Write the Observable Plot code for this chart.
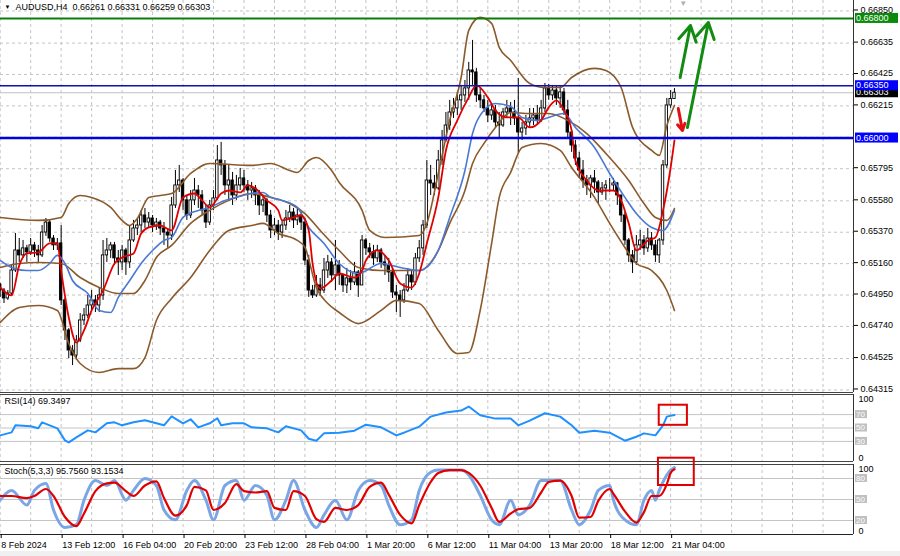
<!DOCTYPE html>
<html><head><meta charset="utf-8">
<script src="https://cdn.jsdelivr.net/npm/d3@7"></script>
<script src="https://cdn.jsdelivr.net/npm/@observablehq/plot@0.6"></script>
<style>
html,body{margin:0;padding:0;background:#fff;}
#chart{position:relative;width:900px;height:556px;overflow:hidden;background:#fff;}
#chart > svg{position:absolute;left:0;overflow:visible;}
#strip{position:absolute;left:0;top:551px;width:900px;height:5px;background:#f0f0f0;}
</style></head><body><div id="chart"><div id="strip"></div></div>
<script>
// ---------------- DATA ----------------
const symbolTitle = "AUDUSD,H4  0.66261 0.66331 0.66259 0.66303";
const rsiTitle = "RSI(14) 69.3497";
const stochTitle = "Stoch(5,3,3) 95.7560 93.1534";

const firstOpen = 0.65020;
const closes = [
0.64980,0.64927,0.64960,0.65114,0.65248,0.65215,0.65262,0.65235,0.65282,0.65248,
0.65215,0.65368,0.65435,0.65328,0.65282,0.65295,0.64914,0.64713,0.64579,0.64545,
0.64646,0.64780,0.64813,0.64880,0.64914,0.64880,0.64947,0.65215,0.65248,0.65282,
0.65195,0.65168,0.65248,0.65168,0.65315,0.65395,0.65415,0.65482,0.65435,0.65462,
0.65415,0.65435,0.65395,0.65368,0.65348,0.65549,0.65683,0.65716,0.65583,0.65482,
0.65583,0.65649,0.65616,0.65516,0.65435,0.65549,0.65596,0.65850,0.65817,0.65683,
0.65716,0.65616,0.65683,0.65730,0.65683,0.65649,0.65663,0.65616,0.65549,0.65583,
0.65482,0.65382,0.65415,0.65368,0.65415,0.65462,0.65502,0.65449,0.65482,0.65435,
0.65181,0.64980,0.64947,0.65014,0.64980,0.65114,0.65168,0.65081,0.65148,0.65081,
0.65014,0.65061,0.65034,0.65101,0.65014,0.65315,0.65262,0.65235,0.65195,0.65248,
0.65168,0.65148,0.65101,0.64967,0.64947,0.64914,0.64980,0.65081,0.65034,0.65195,
0.65262,0.65415,0.65716,0.65696,0.65663,0.65850,0.65984,0.66084,0.66171,0.66198,
0.66252,0.66285,0.66332,0.66452,0.66439,0.66285,0.66252,0.66198,0.66151,0.66185,
0.66104,0.66084,0.66171,0.66198,0.66171,0.66131,0.66037,0.66064,0.66104,0.66131,
0.66151,0.66118,0.66198,0.66332,0.66285,0.66318,0.66265,0.66305,0.66185,0.66037,
0.65950,0.65863,0.65783,0.65716,0.65683,0.65730,0.65703,0.65636,0.65663,0.65683,
0.65683,0.65696,0.65616,0.65482,0.65315,0.65215,0.65168,0.65282,0.65315,0.65262,
0.65328,0.65282,0.65215,0.65315,0.65817,0.66218,0.66261,0.66303];
const highs = [
0.65027,0.64994,0.64980,0.65148,0.65362,0.65328,0.65315,0.65282,0.65328,0.65302,
0.65282,0.65415,0.65462,0.65449,0.65348,0.65328,0.65415,0.64927,0.64726,0.64612,
0.64679,0.64826,0.64860,0.64947,0.64980,0.64947,0.64994,0.65315,0.65328,0.65302,
0.65302,0.65248,0.65282,0.65262,0.65415,0.65449,0.65462,0.65516,0.65529,0.65502,
0.65482,0.65462,0.65449,0.65435,0.65395,0.65603,0.65783,0.65817,0.65730,0.65616,
0.65649,0.65730,0.65683,0.65649,0.65549,0.65583,0.65649,0.65950,0.65971,0.65850,
0.65817,0.65770,0.65750,0.65797,0.65783,0.65716,0.65703,0.65683,0.65649,0.65616,
0.65596,0.65516,0.65462,0.65449,0.65449,0.65516,0.65549,0.65529,0.65529,0.65502,
0.65462,0.65215,0.65014,0.65081,0.65061,0.65195,0.65215,0.65195,0.65315,0.65181,
0.65081,0.65128,0.65114,0.65168,0.65114,0.65348,0.65328,0.65295,0.65282,0.65282,
0.65262,0.65215,0.65195,0.65128,0.65014,0.64980,0.65027,0.65128,0.65114,0.65228,
0.65315,0.65449,0.65850,0.65817,0.65750,0.65917,0.66051,0.66171,0.66252,0.66265,
0.66305,0.66352,0.66385,0.66506,0.66653,0.66466,0.66332,0.66285,0.66252,0.66231,
0.66218,0.66171,0.66198,0.66252,0.66238,0.66252,0.66399,0.66104,0.66151,0.66198,
0.66198,0.66218,0.66252,0.66365,0.66359,0.66352,0.66345,0.66345,0.66332,0.66252,
0.66051,0.65984,0.65904,0.65850,0.65750,0.65750,0.65783,0.65716,0.65703,0.65716,
0.65730,0.65730,0.65703,0.65616,0.65502,0.65328,0.65248,0.65348,0.65382,0.65348,
0.65395,0.65368,0.65315,0.65328,0.65850,0.66265,0.66318,0.66331];
const lows = [
0.64934,0.64893,0.64914,0.64947,0.65101,0.65168,0.65195,0.65168,0.65215,0.65201,
0.65168,0.65201,0.65342,0.65302,0.65248,0.65248,0.64880,0.64646,0.64525,0.64478,
0.64512,0.64632,0.64746,0.64793,0.64847,0.64833,0.64833,0.64914,0.65168,0.65195,
0.65148,0.65081,0.65114,0.65081,0.65128,0.65302,0.65348,0.65368,0.65395,0.65395,
0.65368,0.65382,0.65348,0.65282,0.65262,0.65315,0.65529,0.65636,0.65516,0.65449,
0.65462,0.65549,0.65529,0.65482,0.65395,0.65415,0.65516,0.65583,0.65750,0.65616,
0.65583,0.65549,0.65583,0.65649,0.65636,0.65583,0.65596,0.65549,0.65482,0.65502,
0.65435,0.65328,0.65348,0.65315,0.65328,0.65382,0.65435,0.65395,0.65415,0.65382,
0.65148,0.64934,0.64927,0.64934,0.64940,0.64960,0.65061,0.65034,0.64980,0.65014,
0.64967,0.64960,0.64980,0.65014,0.64934,0.65014,0.65215,0.65195,0.65148,0.65168,
0.65128,0.65081,0.65034,0.64927,0.64833,0.64800,0.64893,0.64967,0.64980,0.65014,
0.65168,0.65215,0.65395,0.65616,0.65616,0.65649,0.65817,0.65971,0.66051,0.66131,
0.66151,0.66185,0.66238,0.66252,0.66352,0.66238,0.66198,0.66171,0.66104,0.66118,
0.66064,0.65997,0.66071,0.66131,0.66084,0.66084,0.65897,0.65984,0.66017,0.66064,
0.66084,0.66084,0.66104,0.66171,0.66252,0.66252,0.66218,0.66198,0.66151,0.65997,
0.65904,0.65817,0.65730,0.65663,0.65616,0.65596,0.65629,0.65562,0.65616,0.65583,
0.65636,0.65649,0.65549,0.65435,0.65282,0.65168,0.65094,0.65148,0.65248,0.65215,
0.65235,0.65248,0.65168,0.65161,0.65282,0.65797,0.66198,0.66259];

// Bollinger bands (bar index, price)
const upperBars = [0,10,16,18,21,24,29,32,34,36,39,42,45,50,55,66,71,76,78,81,83,87,89,95,97,101,110,112,115,118,121,123,126,129,131,134,139,143,147,150,156,159,163,166,171,173,175,177];
const upperVals = [0.65469,0.65449,0.65469,0.65562,0.65616,0.65603,0.65536,0.65449,0.65415,0.65462,0.65603,0.65616,0.65629,0.65763,0.65830,0.65817,0.65830,0.65783,0.65770,0.65850,0.65870,0.65783,0.65703,0.65516,0.65382,0.65335,0.65348,0.65429,0.65763,0.66118,0.66405,0.66720,0.66807,0.66767,0.66606,0.66519,0.66365,0.66338,0.66338,0.66405,0.66466,0.66452,0.66338,0.66071,0.65917,0.65884,0.66084,0.66218];
const middleBars = [0,5,10,16,21,26,31,35,38,41,45,50,55,60,66,71,76,80,84,89,94,100,105,110,115,118,122,124,127,130,134,139,144,149,154,159,165,169,172,175,177];
const middleVals = [0.65134,0.65161,0.65168,0.65161,0.65067,0.65000,0.64960,0.64960,0.65047,0.65201,0.65282,0.65429,0.65516,0.65583,0.65629,0.65603,0.65562,0.65495,0.65382,0.65248,0.65134,0.65114,0.65114,0.65114,0.65248,0.65429,0.65649,0.65830,0.65964,0.66071,0.66171,0.66164,0.66164,0.66118,0.66030,0.65897,0.65716,0.65562,0.65469,0.65449,0.65529];
const lowerBars = [0,5,10,15,18,21,26,31,35,38,41,45,50,55,60,66,69,73,78,80,83,86,89,94,100,104,110,115,120,123,126,129,131,134,137,142,147,150,156,160,164,167,171,175,177];
const lowerVals = [0.64766,0.64866,0.64880,0.64847,0.64626,0.64492,0.64432,0.64458,0.64458,0.64532,0.64780,0.64927,0.65067,0.65248,0.65382,0.65415,0.65429,0.65362,0.65315,0.65268,0.65000,0.64893,0.64833,0.64759,0.64847,0.64914,0.64893,0.64713,0.64559,0.64565,0.64847,0.65295,0.65603,0.65770,0.65937,0.65964,0.65917,0.65803,0.65603,0.65429,0.65268,0.65161,0.65114,0.64980,0.64847];
// Moving averages
const redBars = [0,3,5,7,10,13,15,16,18,20,22,24,27,30,32,35,37,39,42,45,48,51,53,55,58,60,63,65,67,70,73,74,77,79,81,82,84,87,89,93,95,96,99,102,105,108,110,112,115,117,120,123,125,128,130,133,136,139,142,144,146,148,150,151,154,157,161,163,165,167,170,172,174,176,177];
const redVals = [0.65001,0.64947,0.65148,0.65228,0.65235,0.65295,0.65295,0.65114,0.64800,0.64632,0.64713,0.64847,0.64980,0.65161,0.65201,0.65228,0.65362,0.65402,0.65415,0.65382,0.65603,0.65629,0.65583,0.65536,0.65629,0.65649,0.65636,0.65683,0.65663,0.65583,0.65516,0.65449,0.65469,0.65482,0.65382,0.65161,0.64994,0.65047,0.65094,0.65067,0.65114,0.65181,0.65248,0.65181,0.65027,0.65000,0.65094,0.65295,0.65603,0.65917,0.66118,0.66272,0.66352,0.66272,0.66185,0.66138,0.66138,0.66071,0.66118,0.66205,0.66252,0.66185,0.66051,0.65850,0.65716,0.65649,0.65649,0.65583,0.65429,0.65248,0.65315,0.65335,0.65516,0.65803,0.65984];
const blueBars = [0,3,7,10,13,15,17,19,23,26,29,31,34,37,40,43,45,48,52,55,59,62,66,69,71,74,78,81,85,89,94,100,105,110,115,118,122,124,127,130,134,137,141,144,148,151,156,160,164,167,171,174,177];
const blueVals = [0.65181,0.65134,0.65114,0.65114,0.65161,0.65215,0.65161,0.65047,0.64960,0.64847,0.64833,0.64934,0.65047,0.65161,0.65248,0.65315,0.65335,0.65469,0.65516,0.65536,0.65583,0.65603,0.65629,0.65636,0.65603,0.65583,0.65536,0.65402,0.65295,0.65161,0.65094,0.65161,0.65134,0.65114,0.65248,0.65469,0.65783,0.66030,0.66185,0.66231,0.66211,0.66138,0.66118,0.66138,0.66164,0.66071,0.65937,0.65763,0.65603,0.65495,0.65402,0.65382,0.65516];

// RSI(14)
const rsiBars = [0,3,4,8,10,11,13,15,17,18,20,23,25,28,30,32,35,38,40,43,45,48,50,52,55,57,58,61,64,66,70,73,75,79,81,83,85,89,93,96,100,104,106,110,113,117,121,123,126,130,134,136,139,143,147,150,152,156,160,164,167,169,172,174,175,177];
const rsiVals = [39,43.5,54,52.5,49.5,58.5,54,49.5,31.5,28.5,36,46.5,43.5,57,58.5,54,58.5,61.5,58.5,54,67.5,57,63,51,57,64.5,54,57,57,51,49.5,43.5,52.5,46.5,34,31,42,43,46,55,51,39,43,52,67,73,76,82,69,64,64,54,61,72,67,54,43,46,43,31,37,42,39,54,67,69.35];
// Stochastic(5,3,3)
const stochBars = [0,3,7,9,12,14,17,20,22,25,28,30,33,35,38,41,43,46,49,51,54,56,59,62,64,67,70,72,75,77,80,83,85,88,91,94,97,100,102,105,108,110,113,115,118,121,123,126,129,131,134,136,139,142,144,147,150,152,155,157,160,161,164,167,169,171,172,173,175,176,177];
const stochK = [49,63,42,63,73,35,10,14,49,77,70,77,49,63,80,70,35,21,63,77,49,21,70,77,49,70,56,21,49,77,35,10,28,49,21,63,77,70,42,14,21,63,89,92,92,92,85,56,21,14,49,28,42,77,77,77,35,14,35,63,70,49,21,14,49,63,49,63,85,92,95.756];
const stochD = [55,55,52,55,65,55,25,12,30,62,73,74,62,55,70,76,52,27,42,68,63,35,45,72,62,60,62,38,35,62,55,22,18,38,35,42,68,74,57,28,16,42,75,88,92,92,88,70,38,18,30,36,38,60,75,77,55,24,25,48,65,58,33,17,32,55,55,55,72,88,93.153];

// Axes
const xTickBars = [0,16,32,48,64,80,96,112,128,144,160,176];
const xTickLabels = ["8 Feb 2024","13 Feb 12:00","16 Feb 04:00","20 Feb 20:00","23 Feb 12:00","28 Feb 04:00","1 Mar 20:00","6 Mar 12:00","11 Mar 04:00","13 Mar 20:00","18 Mar 12:00","21 Mar 04:00"];
const priceTickLabels = [0.66850,0.66635,0.66425,0.66215,0.65795,0.65580,0.65370,0.65160,0.64950,0.64740,0.64525,0.64315];
const priceGridExtra = [0.66005];
const levelPrices = [0.66800, 0.66350, 0.66000];
const rsiLevels = [70, 50, 30];
const stochLevels = [80, 50, 20];
const shiftMarkerBar = 179.3;

// Annotations (bar index, price / indicator value)
const greenArrows = [{b1:178.5,p1:0.66405,b2:181.2,p2:0.66753},{b1:180.4,p1:0.66071,b2:185.9,p2:0.66773}];
const redArrows = [{b1:178.0,p1:0.66198,b2:179.1,p2:0.66051}];
const rsiBox = [{b1:173,b2:180.4,v1:54,v2:84}];
const stochBox = [{b1:172.8,b2:182.2,v1:70,v2:109}];

// ---------------- BUILD ----------------
const FONT = "'Liberation Sans', Arial, sans-serif";
const W = 900, MR = 47;
const xDomain = [0.08, 224.0];
const gridBars = d3.range(0, 224, 8);
const zip = (b, v) => b.map((x, i) => ({b: x, v: v[i]}));
const candles = closes.map((c, i) => {
  const o = i === 0 ? firstOpen : closes[i - 1];
  return {i, open: o, close: c, high: Math.max(highs[i], o, c), low: Math.min(lows[i], o, c)};
});
const last = closes[closes.length - 1];
const root = document.getElementById("chart");
function place(svg, top){ svg.style.position = "absolute"; svg.style.top = top + "px"; svg.style.left = "0px"; root.appendChild(svg); }
function box(plot, value, label, fill, color, w, h, fs){
  const y = plot.scale("y").apply(value);
  const x0 = plot.scale("x").range[1];
  const g = d3.select(plot).append("g").attr("text-anchor", "start");
  g.append("rect").attr("x", x0 + 2).attr("y", y - h/2).attr("width", w).attr("height", h).attr("fill", fill);
  g.append("text").attr("x", x0 + 3).attr("y", y).attr("dy", "0.36em").attr("fill", color)
    .attr("text-anchor", "start").attr("font-size", fs).attr("font-family", FONT).text(label);
}
const common = {width: W, marginLeft: 0, marginRight: MR,
  style: {fontFamily: FONT, fontSize: "9px", background: "transparent", overflow: "visible", color: "#000"}};
const gridV = Plot.ruleX(gridBars, {stroke: "#c4c4c4", strokeDasharray: "3,3", strokeWidth: 1});
const rightEdge = Plot.ruleX([xDomain[1]], {stroke: "#333"});

// Main price panel
const mainDomain = [0.64298, 0.66920];
const main = Plot.plot({...common, height: 392, marginTop: 0, marginBottom: 0,
  x: {domain: xDomain, axis: null}, y: {domain: mainDomain, axis: null},
  marks: [
    gridV,
    Plot.ruleY(priceTickLabels.concat(priceGridExtra), {stroke: "#c4c4c4", strokeDasharray: "3,3"}),
    Plot.ruleY([last], {stroke: "#c0c0c0"}),
    Plot.ruleX(candles, {x: "i", y1: "low", y2: "high", stroke: "#000", strokeWidth: 1}),
    Plot.rect(candles, {x1: d => d.i - 0.32, x2: d => d.i + 0.32, y1: "open", y2: "close",
      fill: d => d.close >= d.open ? "#fff" : "#000", stroke: "#000", strokeWidth: 0.9}),
    Plot.line(zip(upperBars, upperVals), {x: "b", y: "v", stroke: "#8b5a2b", strokeWidth: 1.6, curve: "monotone-x"}),
    Plot.line(zip(middleBars, middleVals), {x: "b", y: "v", stroke: "#8b5a2b", strokeWidth: 1.6, curve: "monotone-x"}),
    Plot.line(zip(lowerBars, lowerVals), {x: "b", y: "v", stroke: "#8b5a2b", strokeWidth: 1.6, curve: "monotone-x"}),
    Plot.line(zip(blueBars, blueVals), {x: "b", y: "v", stroke: "#4a78d4", strokeWidth: 1.6, curve: "monotone-x"}),
    Plot.line(zip(redBars, redVals), {x: "b", y: "v", stroke: "#e00000", strokeWidth: 1.8, curve: "monotone-x"}),
    Plot.ruleY([levelPrices[0]], {stroke: "#0a7d0a", strokeWidth: 2}),
    Plot.ruleY([levelPrices[1]], {stroke: "#1010b0", strokeWidth: 1.5}),
    Plot.ruleY([levelPrices[2]], {stroke: "#0000e0", strokeWidth: 2.5}),
    Plot.arrow(greenArrows, {x1: "b1", y1: "p1", x2: "b2", y2: "p2", stroke: "#118c11", strokeWidth: 3, headLength: 9}),
    Plot.arrow(redArrows, {x1: "b1", y1: "p1", x2: "b2", y2: "p2", stroke: "#e01010", strokeWidth: 3, headLength: 8}),
    Plot.ruleY([mainDomain[0]], {stroke: "#444"}),
    rightEdge,
    Plot.axisY(priceTickLabels, {anchor: "right", tickSize: 4, tickPadding: 3, tickFormat: d => d.toFixed(5), fontSize: 9, label: null, dy: -1}),
    Plot.text([symbolTitle], {frameAnchor: "top-left", dx: 15, dy: 3, fontSize: 9, fill: "#000"}),
    Plot.text(["\u25BC"], {frameAnchor: "top-left", dx: 4, dy: 4, fontSize: 6, fill: "#000"}),
    Plot.text(["\u25BC"], {x: () => shiftMarkerBar, frameAnchor: "top", lineAnchor: "top", dy: 0, fontSize: 8, fill: "#b0b0b0"})
  ]});
place(main, 0);
box(main, last, last.toFixed(5), "#000", "#fff", 43, 10, 9);
box(main, levelPrices[1], levelPrices[1].toFixed(5), "#0000ff", "#fff", 43, 10, 9);
box(main, levelPrices[2], levelPrices[2].toFixed(5), "#0000ff", "#fff", 43, 10, 9);
box(main, levelPrices[0], levelPrices[0].toFixed(5), "#0a8a0a", "#fff", 43, 10, 9);

// RSI panel
const rsi = Plot.plot({...common, height: 69, marginTop: 1, marginBottom: 1,
  x: {domain: xDomain, axis: null}, y: {domain: [0, 100], axis: null},
  marks: [
    gridV,
    Plot.ruleY(rsiLevels, {stroke: "#c4c4c4"}),
    Plot.line(zip(rsiBars, rsiVals), {x: "b", y: "v", stroke: "#1e90ff", strokeWidth: 2}),
    Plot.rect(rsiBox, {x1: "b1", x2: "b2", y1: "v1", y2: "v2", fill: "none", stroke: "#e00000", strokeWidth: 2}),
    Plot.ruleY([100], {stroke: "#444"}),
    Plot.ruleY([0], {stroke: "#444"}),
    rightEdge,
    Plot.text([rsiTitle], {frameAnchor: "top-left", dx: 4, dy: 3, fontSize: 9, fill: "#000"}),
    Plot.text(["100"], {frameAnchor: "top-right", textAnchor: "start", lineAnchor: "top", dx: 5, dy: 1, fontSize: 9}),
    Plot.text(["0"], {frameAnchor: "bottom-right", textAnchor: "start", lineAnchor: "bottom", dx: 5, dy: -1, fontSize: 9})
  ]});
place(rsi, 393);
rsiLevels.forEach(v => box(rsi, v, String(v), "#c0c0c0", "#fff", 12, 8, 8));

// Stochastic panel + time axis
const st = Plot.plot({...common, height: 93, marginTop: 1, marginBottom: 22,
  x: {domain: xDomain, axis: null}, y: {domain: [0, 100], axis: null},
  marks: [
    gridV,
    Plot.ruleY(stochLevels, {stroke: "#c4c4c4"}),
    Plot.line(zip(stochBars, stochK), {x: "b", y: "v", stroke: "#7aa6e6", strokeWidth: 3, curve: "monotone-x"}),
    Plot.line(zip(stochBars, stochD), {x: "b", y: "v", stroke: "#e00000", strokeWidth: 2.2, curve: "monotone-x"}),
    Plot.rect(stochBox, {x1: "b1", x2: "b2", y1: "v1", y2: "v2", fill: "none", stroke: "#e00000", strokeWidth: 2}),
    Plot.ruleY([100], {stroke: "#444"}),
    Plot.ruleY([0], {stroke: "#222"}),
    rightEdge,
    Plot.text([stochTitle], {frameAnchor: "top-left", dx: 4, dy: 3, fontSize: 9, fill: "#000"}),
    Plot.text(["100"], {frameAnchor: "top-right", textAnchor: "start", lineAnchor: "top", dx: 5, dy: 1, fontSize: 9}),
    Plot.text(["0"], {frameAnchor: "bottom-right", textAnchor: "start", lineAnchor: "bottom", dx: 5, dy: -1, fontSize: 9}),
    Plot.axisX(xTickBars, {anchor: "bottom", tickSize: 4, tickPadding: 3, textAnchor: "start", dx: 1, fontSize: 9,
      tickFormat: d => xTickLabels[xTickBars.indexOf(d)], label: null})
  ]});
place(st, 463);
stochLevels.forEach(v => box(st, v, String(v), "#c0c0c0", "#fff", 12, 8, 8));
</script></body></html>
